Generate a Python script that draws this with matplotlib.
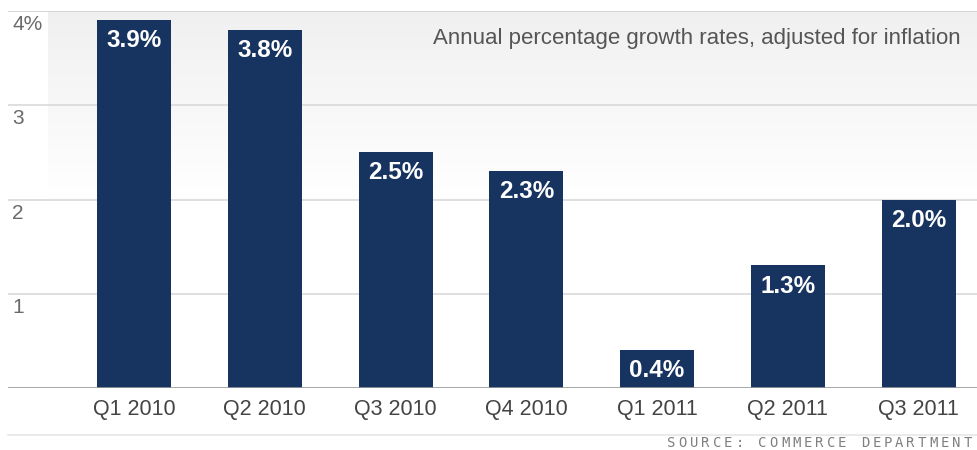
import matplotlib
matplotlib.use("Agg")
from matplotlib import pyplot as plt
from matplotlib.colors import LinearSegmentedColormap
import numpy as np

quarters = ["Q1 2010", "Q2 2010", "Q3 2010", "Q4 2010", "Q1 2011", "Q2 2011", "Q3 2011"]
growth = [3.9, 3.8, 2.5, 2.3, 0.4, 1.3, 2.0]
ytick_vals = [1, 2, 3, 4]
ytick_labels = ["1", "2", "3", "4%"]

plt.rcParams["font.family"] = ["Liberation Sans", "DejaVu Sans"]

fig = plt.figure(figsize=(9.78, 4.5), dpi=100)
ax = fig.add_axes([8 / 978, 1 - 388 / 450, 970 / 978, 377 / 450])

x = np.arange(len(quarters))
ax.set_xlim(-0.9637, 6.455)
ax.set_ylim(0, 4)

# light gray gradient at the top, fading to white
grad = np.linspace(0, 1, 256).reshape(-1, 1)
cmap = LinearSegmentedColormap.from_list("bg", ["#ffffff", "#ffffff", "#f0f0f0"])
ax.imshow(grad, extent=(-0.658, 6.455, 0, 4), origin="lower", aspect="auto",
          cmap=cmap, zorder=0)

# gridlines
for v in ytick_vals:
    ax.axhline(v, color="#d9d9d9" if v < 4 else "#cfcfcf", lw=1.2, zorder=1)
ax.axhline(0, color="#9a9a9a", lw=1.2, zorder=3)

bars = ax.bar(x, growth, width=0.566, color="#17335f", zorder=2)

for xi, v in zip(x, growth):
    ax.annotate(f"{v:.1f}%", (xi, v), xytext=(0, -6.5), textcoords="offset points",
                ha="center", va="top", color="white", fontsize=17.5, fontweight="bold",
                zorder=4)

# y labels sit inside the axes, just under each gridline
for v, lab in zip(ytick_vals, ytick_labels):
    ax.annotate(lab, (0, v), xycoords=("axes fraction", "data"), xytext=(3, -3),
                textcoords="offset points", ha="left", va="top",
                color="#6a6a6a", fontsize=15)

ax.set_xticks(x)
ax.set_xticklabels(quarters, fontsize=15.5, color="#444444")
ax.tick_params(axis="x", length=0, pad=8)
ax.set_yticks([])
for s in ax.spines.values():
    s.set_visible(False)

ax.text(0.982, 0.955, "Annual percentage growth rates, adjusted for inflation",
        transform=ax.transAxes, ha="right", va="top", fontsize=16, color="#555555")

# bottom separator line and source note
fig.add_artist(plt.Line2D([8 / 978, 1], [1 - 435 / 450] * 2, color="#e6e6e6", lw=1.2))
source = "SOURCE: COMMERCE DEPARTMENT"
for i, ch in enumerate(source):
    fig.text((667 + 11.4 * i) / 978, 1 - 443 / 450, ch, ha="left", va="center",
             fontsize=10, color="#808080", family="DejaVu Sans Mono")

plt.savefig("out.png", dpi=100)
